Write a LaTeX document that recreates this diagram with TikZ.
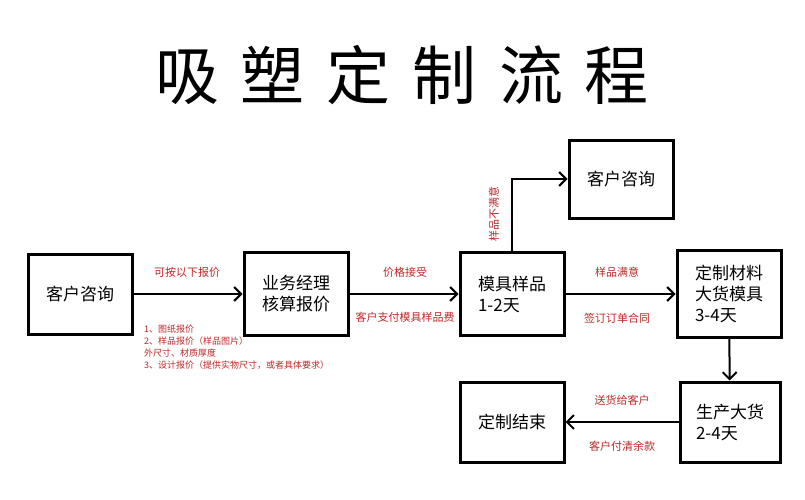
\documentclass[tikz,border=0pt]{standalone}
\usepackage{fontspec}
\setmainfont{Noto Sans CJK SC}
\usetikzlibrary{arrows.meta}
\definecolor{lab}{RGB}{190,40,40}
\tikzset{
 box/.style={draw,line width=3pt,minimum width=#1,inner sep=2pt,font=\fontsize{17}{21}\selectfont},
 box/.default=104pt,
 arr/.style={line width=2pt,-{Straight Barb[length=7pt,width=14pt,line width=2pt]}},
 lbl/.style={text=lab,font=\fontsize{11}{13}\selectfont,inner sep=1pt}
}
\begin{document}
\begin{tikzpicture}[x=1pt,y=-1pt]
\useasboundingbox (0,0) rectangle (805,500);
\node (title) at (402,75) {\fontsize{64}{70}\selectfont 吸\hspace{22pt}塑\hspace{22pt}定\hspace{22pt}制\hspace{22pt}流\hspace{22pt}程};
\node[box,minimum height=80pt] (a) at (80,294) {客户咨询};
\node[box,minimum height=83pt,align=left] (b) at (296,294) {业务经理\\核算报价};
\node[box,minimum height=83pt,align=left] (c) at (512,294) {模具样品\\1-2天};
\node[box,minimum height=87pt,align=left] (d) at (729,294) {定制材料\\大货模具\\3-4天};
\node[box,minimum height=78pt] (e) at (621,179) {客户咨询};
\node[box=100pt,minimum height=80pt,align=left] (f) at (730,422) {生产大货\\2-4天};
\node[box,minimum height=80pt] (g) at (512,422) {定制结束};
\draw[arr] (a) -- (b);
\draw[arr] (b) -- (c);
\draw[arr] (c) -- (d);
\draw[arr] (c.north) |- (e.west);
\draw[arr] (d) -- (f);
\draw[arr] (f) -- (g);
\node[lbl] (l1) at (187,272) {可按以下报价};
\node[lbl] (l2) at (405,272) {价格接受};
\node[lbl] (l3) at (405,317) {客户支付模具样品费};
\node[lbl] (l4) at (617,272) {样品满意};
\node[lbl] (l5) at (617,318) {签订订单合同};
\node[lbl,rotate=90] (l6) at (494,214) {样品不满意};
\node[lbl] (l7) at (622,400) {送货给客户};
\node[lbl] (l8) at (622,446) {客户付清余款};
\node[lbl,anchor=north west,align=left,font=\fontsize{9}{12}\selectfont] (l9) at (143,324) {1、图纸报价\\2、样品报价（样品图片）\\外尺寸、材质厚度\\3、设计报价（提供实物尺寸，或者具体要求）};
\end{tikzpicture}
\end{document}
